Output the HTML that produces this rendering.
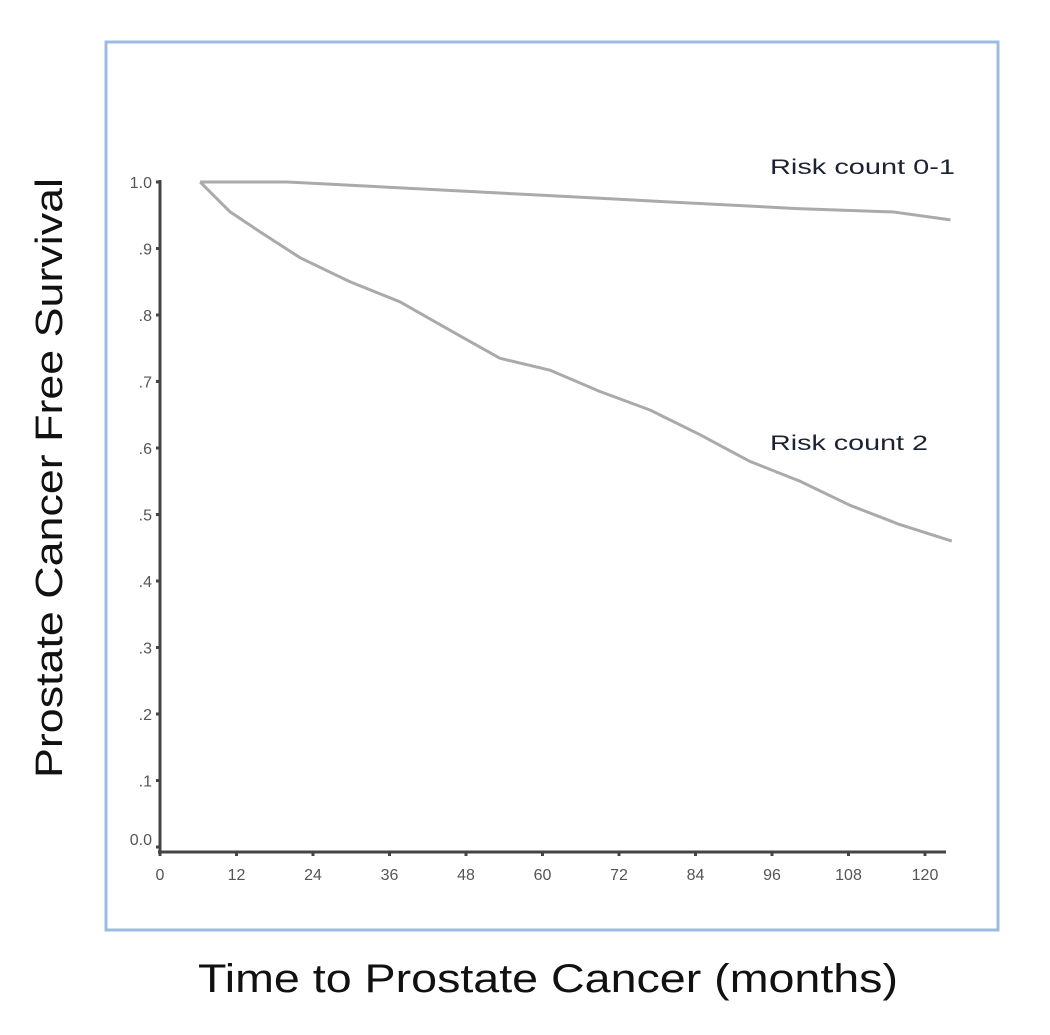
<!DOCTYPE html>
<html><head><meta charset="utf-8"><style>
body{margin:0;background:#fff;width:1050px;height:1030px;overflow:hidden}
svg text{font-family:"Liberation Sans",sans-serif}
</style></head><body>
<svg width="1050" height="1030">
<rect x="106" y="42" width="892" height="888" fill="none" stroke="#9dbbe0" stroke-width="3"/>
<g id="axes"></g>
<g id="series"></g>
<text x="770" y="174" font-size="21" textLength="185" lengthAdjust="spacingAndGlyphs" fill="#1c2233">Risk count 0-1</text>
<text x="770" y="450" font-size="21" textLength="158" lengthAdjust="spacingAndGlyphs" fill="#1c2233">Risk count 2</text>
<text transform="translate(62,478) rotate(-90)" text-anchor="middle" font-size="38" textLength="600" lengthAdjust="spacingAndGlyphs" fill="#111">Prostate Cancer Free Survival</text>
<text x="548" y="992" text-anchor="middle" font-size="40" textLength="700" lengthAdjust="spacingAndGlyphs" fill="#111">Time to Prostate Cancer (months)</text>
</svg>
<script>
const xTicks=[0,12,24,36,48,60,72,84,96,108,120];
const yTicks=[0,0.1,0.2,0.3,0.4,0.5,0.6,0.7,0.8,0.9,1.0];
const yTickLabels=["0.0",".1",".2",".3",".4",".5",".6",".7",".8",".9","1.0"];
const months0=[6.3,20,40,60,80,100,115,124];
const surv0=[1.0,1.0,0.99,0.98,0.97,0.96,0.955,0.943];
const months2=[6.3,11,15.7,22,29.8,37.6,45.5,53.3,61.2,69,76.9,84.7,92.5,100.4,108.2,116,124.2];
const surv2=[1.0,0.955,0.925,0.886,0.85,0.82,0.777,0.735,0.717,0.685,0.657,0.62,0.58,0.55,0.514,0.485,0.46];
const NS="http://www.w3.org/2000/svg";
const X=m=>160+m*76.5/12, Y=v=>847-v*665;
const ax=document.getElementById('axes'), se=document.getElementById('series');
function mk(t,a,p){const e=document.createElementNS(NS,t);for(const k in a)e.setAttribute(k,a[k]);p.appendChild(e);return e;}
let l=mk('line',{x1:160,y1:180,x2:160,y2:852,stroke:'#444','stroke-width':3},ax);


l=mk('line',{x1:158,y1:852,x2:946,y2:852,stroke:'#444','stroke-width':3},ax);


xTicks.forEach(m=>{const t=mk('text',{x:X(m),y:880,'text-anchor':'middle','font-size':16,fill:'#555'},ax);t.textContent=m;


const k=mk('line',{x1:X(m),y1:852,x2:X(m),y2:856,stroke:'#444','stroke-width':3},ax);

});
yTicks.forEach((v,i)=>{const t=mk('text',{x:152,y:(v===0?Y(v)-2:Y(v)+6),'text-anchor':'end','font-size':16,fill:'#555'},ax);t.textContent=yTickLabels[i];


const k=mk('line',{x1:156,y1:Y(v),x2:160,y2:Y(v),stroke:'#444','stroke-width':3},ax);

});
function curve(ms,vs,name){const pts=ms.map((m,i)=>X(m)+','+Y(vs[i])).join(' ');
const p=mk('polyline',{points:pts,fill:'none',stroke:'#aaa','stroke-width':3,'stroke-linejoin':'round'},se);

}
curve(months0,surv0,'curve-risk-0-1');
curve(months2,surv2,'curve-risk-2');
</script>
</body></html>
